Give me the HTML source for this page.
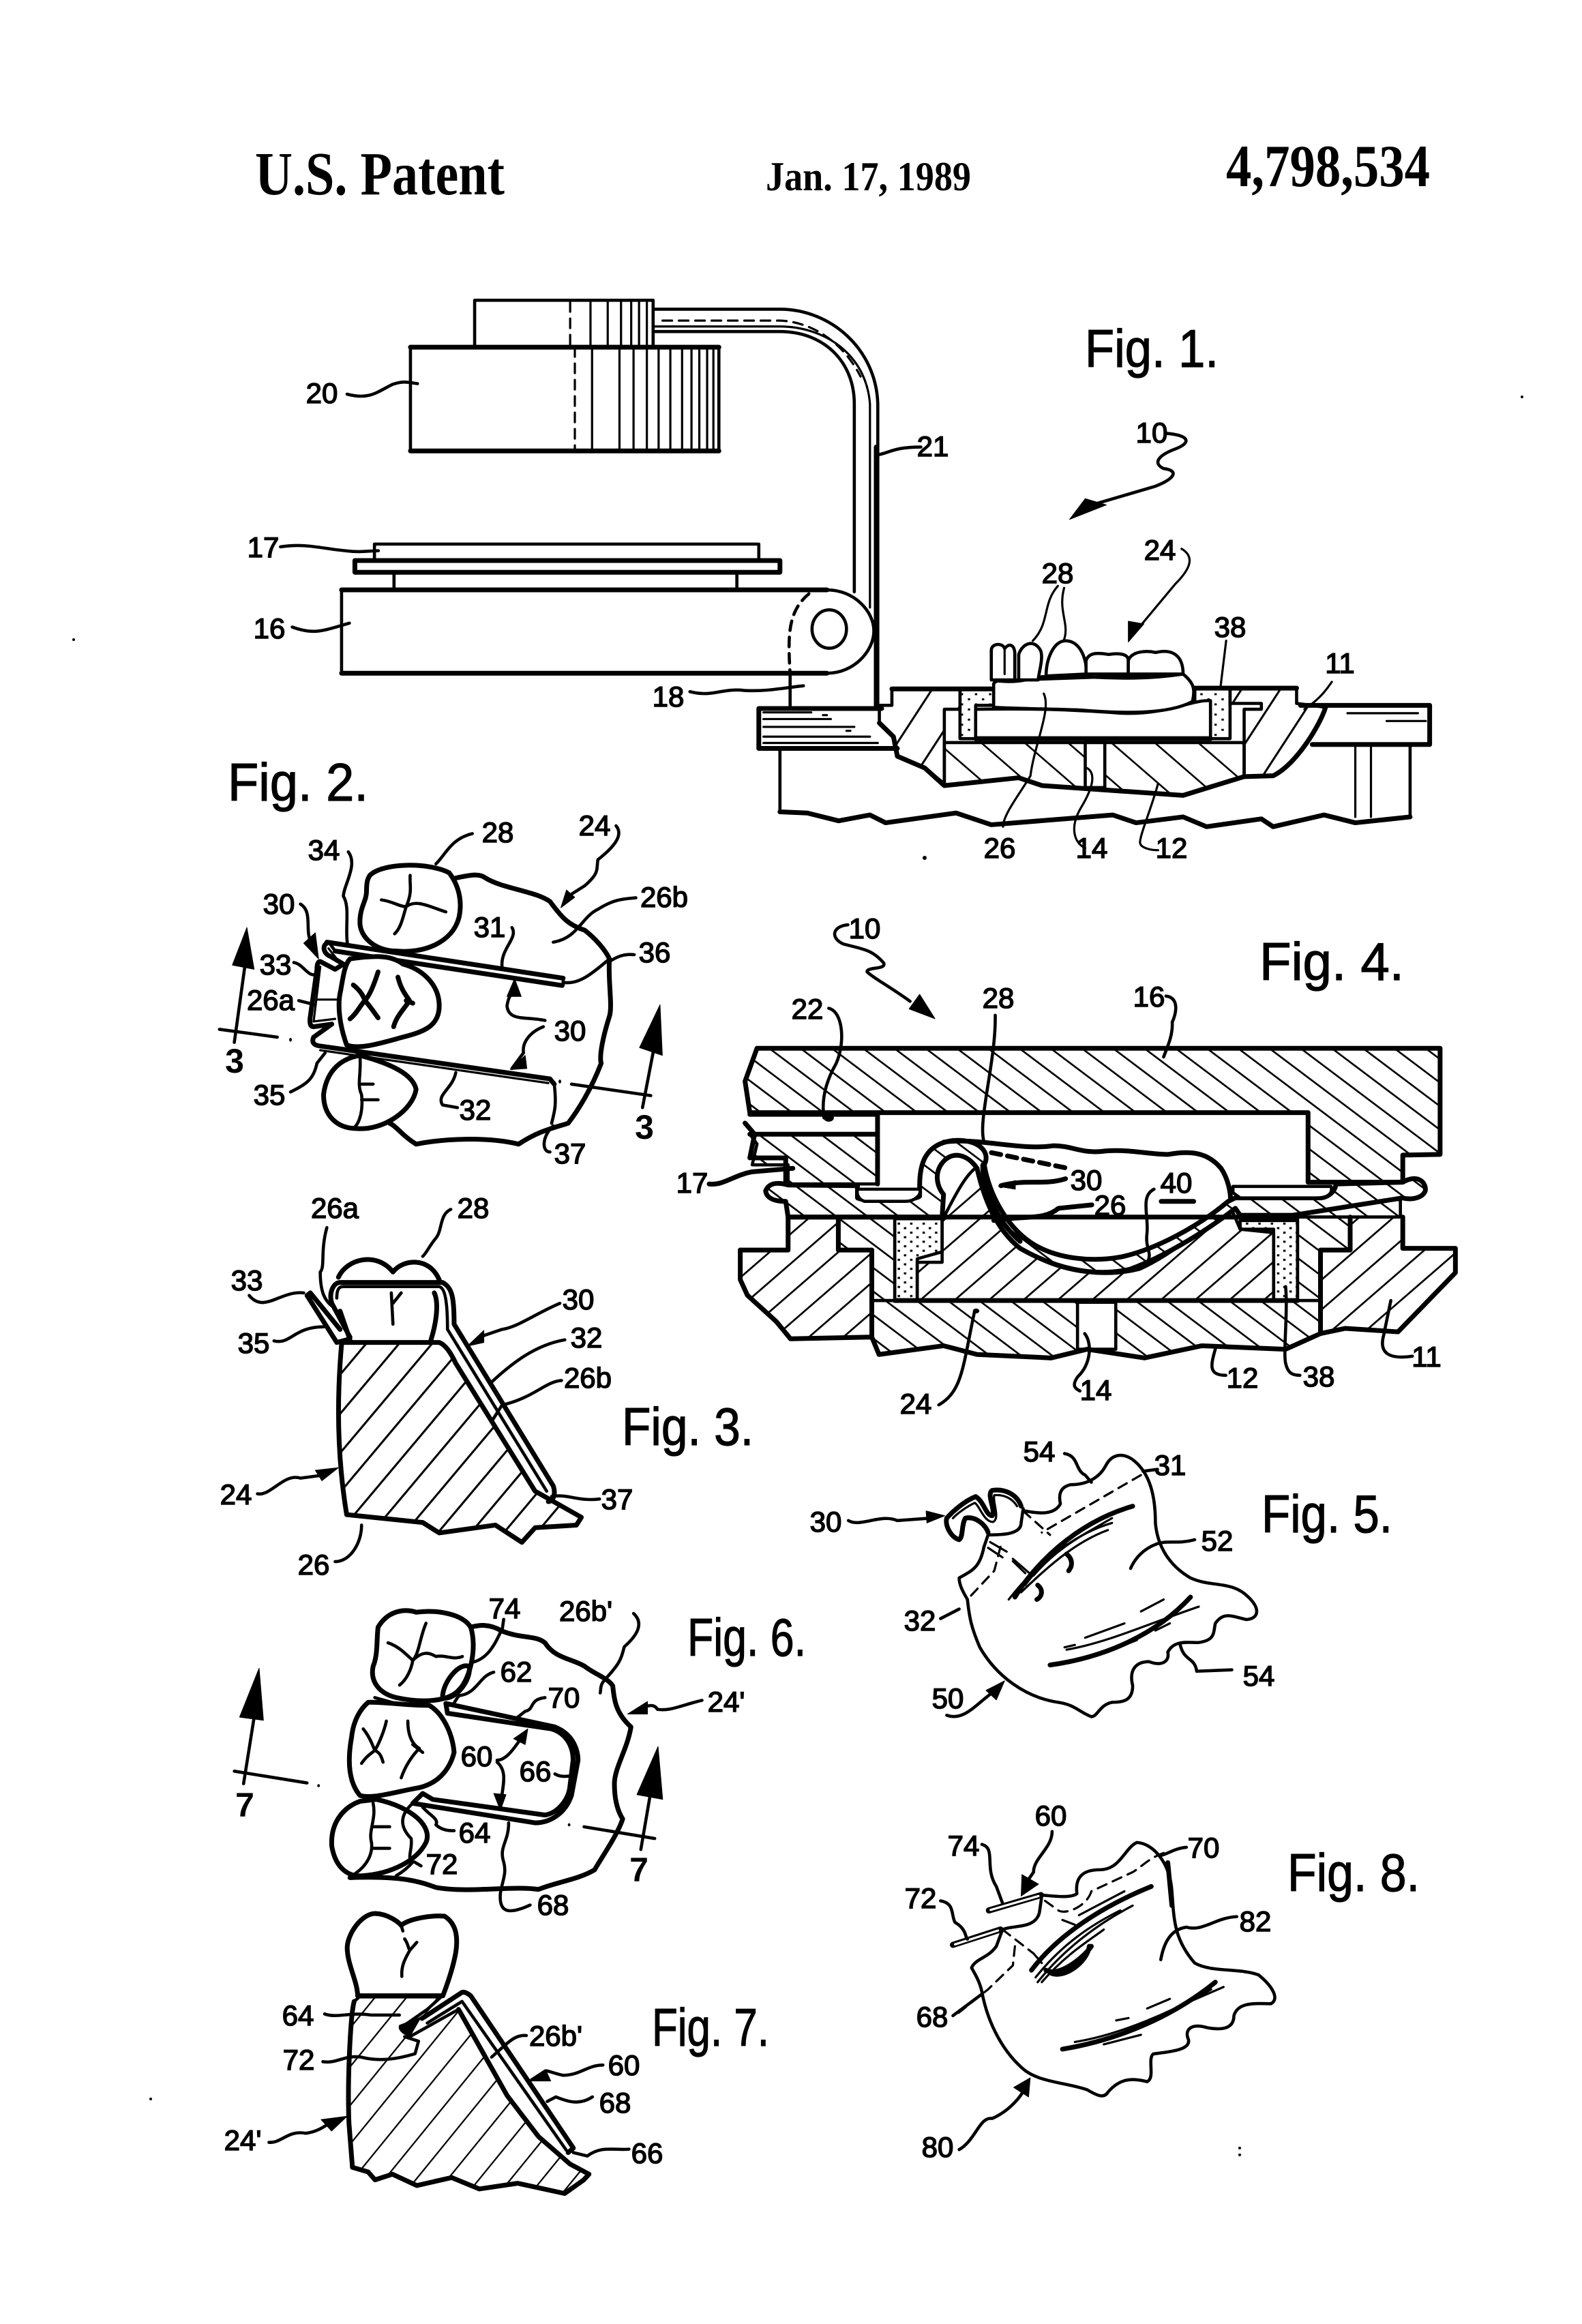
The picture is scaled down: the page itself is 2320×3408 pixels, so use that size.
<!DOCTYPE html>
<html lang="en"><head><meta charset="utf-8"><title>U.S. Patent 4,798,534</title>
<style>
html,body{margin:0;padding:0;background:#fff}
svg{display:block}
.g path,.g line,.g rect,.g ellipse,.g circle{vector-effect:non-scaling-stroke;fill:none;stroke:#000;stroke-width:4.6;stroke-linejoin:round;stroke-linecap:round}
.g .t{stroke-width:3.2}
.g .b{stroke-width:7}
.g .f{fill:#000;stroke-width:1}
.g .w{fill:#fff}
.g .d{stroke-dasharray:14 10}
.g .n{stroke:none}
.z1a{fill:url(#z1a)!important}.z1b{fill:url(#z1b)!important}.z1s{fill:url(#z1s)!important}
.z2a{fill:url(#z2a)!important}.z2b{fill:url(#z2b)!important}.z2s{fill:url(#z2s)!important}
.z3a{fill:url(#z3a)!important}.z7a{fill:url(#z7a)!important}
text{fill:#000;font-family:"Liberation Sans",sans-serif}
.l{font-size:42px;text-anchor:middle;stroke:#000;stroke-width:1.5}
.s{font-size:50px;font-weight:bold;text-anchor:middle}
.F{font-size:78px;stroke:#000;stroke-width:1.2}
.h{font-family:"Liberation Serif",serif;font-weight:bold}
</style></head><body>
<svg xmlns="http://www.w3.org/2000/svg" width="2320" height="3408" viewBox="0 0 2320 3408">
<defs>
<pattern id="z1a" patternUnits="userSpaceOnUse" width="47" height="20" patternTransform="rotate(18)"><rect width="3" height="20" fill="#000"/></pattern>
<pattern id="z1b" patternUnits="userSpaceOnUse" width="48" height="20" patternTransform="rotate(-30)"><rect width="3" height="20" fill="#000"/></pattern>
<pattern id="z1s" patternUnits="userSpaceOnUse" width="18" height="26"><rect x="3" y="4" width="3" height="5" fill="#000"/><rect x="12" y="17" width="3" height="5" fill="#000"/></pattern>
<pattern id="z2a" patternUnits="userSpaceOnUse" width="55" height="20" patternTransform="rotate(40)"><rect width="4.5" height="20" fill="#000"/></pattern>
<pattern id="z2b" patternUnits="userSpaceOnUse" width="47" height="20" patternTransform="rotate(-44)"><rect width="4.5" height="20" fill="#000"/></pattern>
<pattern id="z2s" patternUnits="userSpaceOnUse" width="26" height="26"><rect x="4" y="4" width="5" height="6" fill="#000"/><rect x="17" y="17" width="5" height="6" fill="#000"/></pattern>
<pattern id="z3a" patternUnits="userSpaceOnUse" width="60" height="20" patternTransform="rotate(53)"><rect width="5" height="20" fill="#000"/></pattern>
<pattern id="z7a" patternUnits="userSpaceOnUse" width="80" height="20" patternTransform="rotate(28)"><rect width="5" height="20" fill="#000"/></pattern>
</defs>
<rect width="2320" height="3408" fill="#fff"/>

<!-- header -->
<text class="h" x="374" y="285" font-size="90" textLength="366" lengthAdjust="spacingAndGlyphs">U.S. Patent</text>
<text class="h" x="1123" y="279" font-size="60" textLength="301" lengthAdjust="spacingAndGlyphs">Jan. 17, 1989</text>
<text class="h" x="1798" y="273" font-size="88" textLength="299" lengthAdjust="spacingAndGlyphs">4,798,534</text>

<!-- FIG 1 -->
<g class="g" transform="translate(300,380) scale(1.148,.574)">
<path d="M345 222V105H573V222"/>
<path class="t d" d="M467 110V222"/>
<path class="t" d="M493 110V222M515 110V222M532 110V222M545 110V222M555 110V222M565 110V222"/>
<path d="M573 128H735C800 128 858 230 860 370V1140"/>
<path d="M573 185H735C790 185 830 260 830 370V850"/>
<path class="t" d="M573 172H735C790 172 845 240 850 370V890"/>
<path class="t d" d="M585 157H735C775 160 815 210 838 300"/>
<path class="b" d="M858 480V1140"/>
<path class="w" d="M263 225H657V490H263Z"/>
<path class="b" d="M263 490H657M263 225H657"/>
<path class="t d" d="M473 225V490"/>
<path class="t" d="M495 225V490M530 225V490M548 225V490M565 225V490M580 225V490M595 225V490M610 225V490M622 225V490M632 225V490M642 225V490M650 225V490"/>
<path class="w" d="M217 728H708V768H217Z"/>
<path class="w b" d="M192 770H735V800H192Z"/>
<path d="M242 800V842M680 800V842"/>
<path class="w" d="M175 845H795C830 845 855 900 855 950C855 1000 830 1058 795 1058H175Z"/>
<path class="b" d="M175 1058H795M175 845H795"/>
<ellipse cx="798" cy="945" rx="22" ry="49"/>
<path class="d" d="M772 855C745 900 745 960 748 1060"/>
<path d="M748 1060V1148"/>
<path class="b" d="M708 1148H865M708 1250H885M708 1148V1250"/>
<path class="t" d="M714 1158H775M714 1175H800M714 1195H830M714 1220H850M714 1236H860"/>
<path class="t" d="M790 1165H795M820 1205H825"/>
<path class="b" d="M1400 1140H1565V1240H1415"/>
<path class="t" d="M1460 1160H1550M1510 1180H1560"/>
<path d="M735 1250V1412M1540 1240V1425"/>
<path class="t" d="M1470 1240V1425M1490 1240V1425"/>
<path class="b" d="M735 1412L770 1415 810 1435 850 1420 870 1440 960 1415 1005 1445 1160 1420 1190 1440 1250 1425 1280 1450 1350 1430 1365 1450 1430 1420 1470 1440 1540 1425"/>
<path class="z1a" d="M862 1140L878 1140 878 1098H965V1150H945V1340L920 1300 885 1270 880 1220 862 1185Z"/>
<path class="z1a" d="M1310 1098H1395V1135L1432 1145C1425 1190 1395 1290 1365 1320L1328 1322V1150H1350V1135H1310Z"/>
<path class="z1b" d="M945 1235H1328V1322L1250 1370 1070 1345 1040 1325 945 1345Z"/>
<path class="w" d="M1125 1235H1150V1350H1125Z"/>
<path class="z1s" d="M965 1098H1008V1140H985V1225H965Z"/>
<path class="z1s" d="M1265 1098H1310V1225H1285V1150H1265Z"/>
<path class="w" d="M985 1150C1060 1148 1100 1150 1170 1160 1230 1165 1260 1125 1285 1128V1225H985Z"/>
<path class="b" d="M985 1225H1285M878 1098H1005M1265 1096H1395"/>
<path class="b" d="M862 1185L880 1220 885 1270 920 1300 945 1345 1040 1325 1070 1345 1250 1370 1328 1322 1365 1320C1395 1290 1425 1190 1432 1145"/>
<path class="w" d="M1008 1145V1085C1010 1075 1020 1075 1040 1075L1250 1060C1265 1085 1265 1100 1262 1130 1230 1165 1170 1160 1120 1152 1060 1148 1030 1148 1008 1145Z"/>
<path d="M1015 1078C1050 1085 1065 1060 1080 1068 1100 1075 1120 1060 1135 1068 1160 1070 1200 1075 1250 1060"/>
<path class="w" d="M1005 1075V1000C1005 980 1020 980 1022 995 1028 980 1034 985 1035 1005V1075Z"/>
<path class="t" d="M1022 995V1060"/>
<path class="w" d="M1040 1075V1010C1045 980 1060 970 1068 1000 1072 1020 1065 1060 1065 1075Z"/>
<path class="w" d="M1075 1065C1075 1020 1085 975 1100 975 1120 975 1128 1030 1126 1060Z"/>
<path class="w" d="M1126 1060V1025C1130 1005 1140 1005 1155 1010 1170 1005 1180 1010 1180 1025V1060Z"/>
<path class="w" d="M1180 1060V1025C1185 1000 1205 1000 1215 1005 1235 995 1250 1010 1250 1060Z"/>
<path d="M182 345C210 360 220 340 240 320 255 310 260 315 272 318"/>
<path d="M860 500C875 495 880 480 915 480"/>
<path d="M1228 445C1260 450 1260 470 1240 485 1220 500 1210 520 1225 535 1245 540 1240 560 1215 580L1130 630"/>
<path class="f" d="M1105 665L1125 612 1152 628Z"/>
<path d="M97 735C130 725 150 740 180 745 200 750 210 745 222 745"/>
<path d="M112 940C140 960 150 950 185 930"/>
<path d="M620 1105C650 1120 660 1095 690 1102 720 1105 740 1095 765 1090"/>
<path class="t" d="M1090 835C1070 880 1080 930 1058 975M1098 840C1090 900 1105 930 1098 972"/>
<path class="t" d="M1248 740C1265 760 1260 790 1240 830L1190 950"/>
<path class="f" d="M1180 978L1180 925 1200 932Z"/>
<path class="t" d="M1305 975L1298 1090M1440 1080C1430 1110 1420 1130 1405 1150"/>
<path class="t" d="M1072 1110C1082 1150 1060 1240 1055 1320 1040 1370 1020 1420 1020 1450"/>
<path class="t" d="M1125 1298C1140 1310 1135 1350 1120 1400 1105 1450 1110 1490 1125 1505"/>
<path class="t" d="M1218 1340C1210 1400 1195 1470 1195 1490 1195 1505 1210 1510 1218 1510"/>
</g>

<!-- FIG 4 -->
<g class="g" transform="translate(1040,1300) scale(.7015,.5102)">
<path class="z2b b" d="M100 465H1528V770L1450 772V850H1252V650H85L75 560Z"/>
<path class="z2b" d="M85 712H352V855H165V800H90L100 740Z"/>
<path class="b" d="M85 655H352M85 712H352M352 650V855M75 680L95 712 85 780M90 780H160V850"/>
<circle class="f" cx="250" cy="665" r="10"/>
<path class="z2a" d="M165 950H270V1045H340V1295L170 1300 140 1250 80 1175 65 1130V1045H165Z"/>
<path class="z2a" d="M1340 950H1450V1040H1560V1110L1440 1280 1330 1270 1278 1285V1045H1340Z"/>
<path class="z2b" d="M340 1190H1278V1285L1205 1330 1030 1320 910 1355 790 1330 715 1355 560 1345 490 1320 355 1345 340 1300Z"/>
<path class="w" d="M770 1195H850V1330H770Z"/>
<path class="z2a" d="M435 1190V1080H487V960C510 900 540 810 570 800 580 860 620 1010 690 1070 750 1110 830 1125 900 1100 980 1050 1050 960 1085 905L1110 985H1180V1190Z"/>
<path class="z2b" d="M270 950H388V1190H340V1045H270Z"/>
<path class="z2b" d="M1230 950H1340V1045H1278V1190H1230Z"/>
<path class="z2s" d="M388 955H487V1050L435 1070V1190H388Z"/>
<path class="z2s" d="M1110 960H1230V1190H1180V995L1110 985Z"/>
<path class="z2b" d="M165 905H270V950H165Z"/>
<path class="z2b" d="M1350 900H1445V950H1230V945Z"/>
<path class="w" d="M118 875C125 850 145 850 165 858L310 860V895C320 905 430 905 440 890V860C440 800 450 740 510 730 560 725 590 760 575 800 585 880 620 980 680 1030 730 1070 800 1080 860 1065 930 1045 1020 980 1085 905L1100 895H1280C1300 890 1310 870 1310 855L1450 850C1480 825 1500 850 1497 875 1490 900 1460 900 1450 895L1220 945H1110L1100 925C1040 990 950 1065 880 1100 800 1125 720 1095 650 1040 600 985 575 900 560 810 540 770 510 760 490 790 470 820 475 860 490 885L487 950H165L160 905C135 905 120 895 118 875Z"/>
<path class="z2b b" d="M118 875C125 850 145 850 165 858L310 860V895C320 905 430 905 440 890V860C440 800 450 740 510 730 560 725 590 760 575 800 585 880 620 980 680 1030 730 1070 800 1080 860 1065 930 1045 1020 980 1085 905L1100 895H1280C1300 890 1310 870 1310 855L1450 850C1480 825 1500 850 1497 875 1490 900 1460 900 1450 895L1220 945H1110L1100 925C1040 990 950 1065 880 1100 800 1125 720 1095 650 1040 600 985 575 900 560 810 540 770 510 760 490 790 470 820 475 860 490 885L487 950H165L160 905C135 905 120 895 118 875Z"/>
<path class="w" d="M310 870H440C445 885 430 905 410 905H325C312 900 308 885 310 870Z"/>
<path class="w" d="M1095 862H1300C1305 885 1290 895 1270 895H1110L1095 880Z"/>
<path class="b" d="M490 735C560 720 650 760 720 745 760 745 780 770 830 760 880 755 920 770 960 770 1000 760 1040 760 1070 810 1085 840 1090 880 1090 900"/>
<path class="b" d="M65 1045V1130L80 1175 140 1250 170 1300 340 1295 355 1345 490 1320 560 1345 715 1355 790 1330 910 1355 1030 1320 1205 1330 1278 1285 1330 1270 1440 1280 1560 1110V1040H1450V950"/>
<path class="b" d="M165 950H1230M388 1190H1230M65 1045H165V950M270 950V1045H340V1295M1340 950V1045H1278V1285"/>
<path class="b d" d="M590 765L750 810"/>
<path class="b" d="M572 800C570 860 600 960 650 1020"/>
<path class="b" d="M610 860C660 840 700 860 745 840"/>
<path class="f" d="M605 862L640 845 640 870Z"/>
<path class="b" d="M595 960C660 945 700 960 730 925L800 915"/>
<path d="M930 870C900 890 920 950 915 1000 912 1040 925 1050 918 1075"/>
<path d="M598 370C600 500 560 680 575 735"/>
<path d="M955 315C985 320 975 370 968 390 970 430 955 470 950 490"/>
<path d="M250 350C280 360 285 450 265 510 240 570 235 620 240 665"/>
<path d="M290 110C255 115 255 150 280 165 320 180 340 180 365 220 370 240 330 230 330 245 340 260 380 290 420 330"/>
<path class="f" d="M472 380L418 352 440 310Z"/>
<path class="b" d="M0 855C30 860 50 830 90 820L175 810"/>
<path d="M480 1490C530 1450 530 1380 555 1220"/>
<circle class="f" cx="558" cy="1220" r="6"/>
<path d="M785 1285C800 1310 800 1370 770 1410 755 1440 770 1445 775 1450"/>
<path d="M1060 1320C1050 1370 1040 1405 1080 1405"/>
<path d="M1205 1150C1210 1220 1200 1340 1205 1370 1210 1400 1220 1405 1235 1405"/>
<path d="M1425 1190L1410 1290C1400 1340 1420 1360 1470 1350"/>
<path class="b" d="M945 905H1013"/>
</g>

<!-- FIG 2 & 3 -->
<g class="g" transform="translate(300,1100) scale(.4847,.7653)">
<path class="b" d="M760 245C800 240 830 235 850 245 900 265 1000 270 1045 290 1080 320 1100 335 1150 345 1180 360 1210 380 1225 400 1220 440 1235 490 1225 510 1200 560 1195 590 1200 600 1170 650 1130 690 1100 715 1050 725 1010 730 950 755 850 740 720 745 640 755 600 740 580 720 560 715"/>
<path class="w b" d="M500 240C540 215 680 215 740 235 770 260 780 290 770 320 750 370 660 390 580 385 520 385 470 360 470 330 470 300 490 290 490 270 490 250 495 245 500 240Z"/>
<path d="M535 287C570 290 590 300 610 300 630 270 620 260 622 240M610 300C640 285 680 300 730 310M610 300C600 320 595 340 575 352"/>
<path class="w" d="M375 367L1085 437V450L395 385Z"/>
<path class="b" d="M370 368L1085 437M395 385L1082 451"/>
<path class="w b" d="M440 400C500 395 560 390 600 410 660 420 710 450 710 490 710 530 660 540 600 550 540 560 470 575 430 565 410 530 400 490 412 460 420 430 425 410 440 400Z"/>
<path class="b" d="M450 450C470 460 480 470 485 480 500 470 515 445 525 425M485 480C470 490 460 505 440 515M485 480C500 490 510 500 525 513M585 435C595 460 610 470 620 480 605 495 580 510 572 530M610 480L630 485"/>
<path class="w b" d="M470 585C420 590 370 610 360 660 360 700 400 725 460 725 540 730 630 690 640 650 630 620 560 600 470 585Z"/>
<path d="M470 585C475 620 460 640 475 660 480 690 470 715 450 725M475 640H510M475 670H525"/>
<path class="b" d="M370 370C355 375 360 390 380 395L420 410 395 420 350 405Q340 405 340 420L320 510Q315 530 330 530L385 525 330 550Q320 565 350 567L1045 630 1058 640"/>
<path class="t" d="M375 380L410 408M350 415L330 520 395 515M350 575L1040 638"/>
<path class="t" d="M340 478H405"/>
<path d="M1058 640C1065 680 1060 690 1050 715M1085 445C1130 450 1170 430 1225 400"/>
<path d="M45 535L220 550M1110 640L1350 662"/>
<circle class="f" cx="260" cy="555" r="3"/><circle class="f" cx="1075" cy="635" r="3"/>
<path d="M90 560L125 400M1325 685L1360 570"/>
<path class="f" d="M128 340L150 420 84 412Z"/>
<path class="f" d="M1378 488L1385 585 1316 570Z"/>
<path d="M700 218C730 200 745 170 810 160"/>
<path d="M1245 145C1265 160 1250 180 1190 210 1185 230 1195 235 1150 260L1100 280"/>
<path class="f" d="M1078 302L1095 268 1120 282Z"/>
<path d="M1055 368C1130 360 1140 320 1190 305 1240 285 1270 285 1305 283"/>
<path d="M435 195C465 220 420 260 420 280 440 300 425 340 432 370"/>
<path d="M290 295C330 310 300 350 325 370"/>
<path class="f" d="M345 400L300 370 335 350Z"/>
<path d="M270 407C300 410 310 435 340 430M285 480L335 488"/>
<path d="M930 340C950 360 895 380 900 415M1225 405C1250 395 1270 390 1300 392"/>
<path d="M1030 518C970 510 920 520 915 490 920 470 930 465 940 460"/>
<path class="f" d="M938 438L958 472 915 472Z"/>
<path d="M1025 530C985 540 960 560 965 580L930 610"/>
<path class="f" d="M925 612L970 585 975 610Z"/>
<path d="M260 655C310 640 330 630 340 600L365 580"/>
<path d="M760 618C750 650 700 660 720 680L765 685"/>
<path d="M1055 720C1020 740 1020 770 1045 770"/>

<path class="z3a" d="M415 1135H710C730 1140 745 1155 760 1175L1000 1420 1140 1470 1125 1485 1000 1490 960 1518 880 1485 710 1500 660 1480 430 1465C400 1350 400 1240 415 1135Z"/>
<path class="b" d="M415 1135H710C730 1140 745 1155 760 1175L1000 1420M1000 1420L1140 1470 1125 1485 1000 1490 960 1518 880 1485 710 1500 660 1480 430 1465C400 1350 400 1240 415 1135"/>
<path class="b" d="M405 1010C430 975 520 960 570 1000 600 975 680 970 710 1015"/>
<path class="b" d="M385 1060C375 1040 390 1020 410 1020H720C750 1030 755 1050 755 1100L1055 1410C1065 1430 1050 1440 1040 1440"/>
<path d="M400 1050C400 1030 410 1028 420 1028H710C725 1030 735 1050 735 1110L1035 1420"/>
<path class="b" d="M410 1075L440 1130M695 1040C710 1060 700 1100 685 1130"/>
<path d="M565 1040L570 1100M570 1060L595 1040"/>
<path class="b" d="M430 1130L400 1135 310 1045 320 1040 410 1110M385 1060L440 1125"/>
<path d="M370 915C350 960 365 990 350 1000 350 1040 365 1055 385 1065"/>
<path d="M745 880C710 890 720 920 700 935 680 950 670 965 660 970"/>
<path d="M135 1045C180 1080 230 1035 300 1040"/>
<path d="M210 1132C260 1140 270 1105 360 1105"/>
<path d="M1075 1060C1000 1080 950 1105 900 1110L830 1125"/>
<path class="f" d="M795 1142L845 1112 845 1135Z"/>
<path d="M1090 1130C1000 1140 930 1175 870 1210"/>
<path d="M1080 1208C1030 1210 1000 1240 900 1255L870 1285"/>
<path d="M1050 1430C1100 1425 1130 1440 1195 1435"/>
<path d="M160 1425C200 1430 240 1385 290 1395L350 1390"/>
<path class="f" d="M405 1375L335 1380 355 1400Z"/>
<path d="M475 1485C475 1520 440 1555 395 1555"/>
</g>

<!-- FIG 6 -->
<g class="g" transform="translate(300,2300) scale(.4847,.574)">
<path class="b" d="M805 150C830 145 860 140 900 160 960 180 1000 170 1030 190 1060 230 1110 230 1150 250 1180 270 1220 280 1235 300 1240 340 1245 370 1290 405 1280 460 1240 510 1240 550 1240 590 1250 620 1265 640 1250 680 1200 740 1180 770 1130 795 1070 800 1010 820 930 810 800 830 700 815 650 800 600 785 440 790"/>
<path class="w b" d="M525 150C560 100 620 105 640 112 700 105 780 115 805 150 825 200 805 280 770 310 740 340 660 345 580 330 530 320 500 290 510 250 525 220 520 180 525 150Z"/>
<path d="M555 190C590 200 610 220 630 235 650 215 650 180 670 140M630 235C660 210 680 215 700 225 730 220 750 235 780 225M630 235C625 260 610 285 590 298"/>
<path class="b" d="M720 330C720 290 770 240 800 250 810 280 760 340 720 330Z"/>
<path d="M810 240C860 230 880 190 900 155"/>
<path d="M515 330L600 350"/>
<path class="w b" d="M495 342C540 340 600 350 680 350 720 370 750 420 755 470 740 520 700 550 650 560 580 570 510 590 470 580 440 550 430 500 445 430 450 390 470 360 495 342Z"/>
<path d="M480 410C500 430 510 455 515 465 530 445 545 410 550 390M515 465C500 475 490 480 475 498M515 465C530 470 535 480 540 495M615 390C615 430 630 450 650 460 625 480 605 510 595 535M630 450L660 470"/>
<path class="w b" d="M470 595C420 610 380 650 385 710 395 760 430 790 480 785 560 780 640 750 670 700 690 660 630 610 520 590Z"/>
<path d="M510 600C520 640 495 670 505 700 510 730 490 760 455 780M510 660H560M510 715H560"/>
<path d="M630 600C590 630 590 660 625 690 630 720 610 740 630 750 610 770 590 780 580 785"/>
<path class="b" d="M730 345L1060 405C1120 425 1130 470 1130 490L1110 580C1090 630 1040 650 1000 650L630 600 660 575 690 590 1030 630C1070 625 1100 590 1105 560L1115 490C1115 450 1090 420 1050 410L735 370 730 345"/>
<path d="M90 518L310 548M1148 660L1362 690"/>
<circle class="f" cx="345" cy="555" r="3"/><circle class="f" cx="1103" cy="655" r="3"/>
<path d="M118 550L150 380M1320 718L1350 570"/>
<path class="f" d="M165 255L178 388 106 380Z"/>
<path class="f" d="M1372 455L1386 590 1308 578Z"/>
<path d="M905 130L900 160"/>
<path d="M1298 115C1330 140 1310 170 1270 200 1260 230 1260 240 1210 285 1195 300 1200 310 1197 318"/>
<path d="M1505 337C1440 350 1410 365 1370 360 1360 345 1340 350 1320 358"/>
<path class="f" d="M1280 372L1340 340 1340 372Z"/>
<path d="M875 265C830 275 825 320 770 325 750 345 760 350 730 350"/>
<path d="M1030 330C980 335 1000 360 970 365L940 385"/>
<path d="M885 490C920 490 950 440 970 420"/>
<path class="f" d="M978 410L970 450 935 435Z"/>
<path d="M885 495C920 520 900 560 895 610"/>
<path class="f" d="M895 618L875 575 912 578Z"/>
<path d="M1060 525C1080 535 1100 530 1115 530"/>
<path d="M660 610C680 630 710 640 700 655 720 670 740 670 755 670"/>
<path d="M635 750L655 760"/>
<path d="M920 650C920 700 890 710 905 750 915 780 900 800 895 830 890 880 920 885 985 860"/>
</g>

<!-- FIG 7 -->
<g class="g" transform="translate(300,2780) scale(.5102,.3333)">
<path class="b" d="M440 440C440 380 410 300 410 230 410 170 450 80 490 78 530 80 560 120 565 130 590 100 650 85 690 90 720 120 730 170 722 250 715 310 700 380 685 440"/>
<path d="M575 190C585 210 585 230 590 240L610 205M590 240C575 280 565 310 567 355M565 130L570 155"/>
<path class="z7a" d="M430 465L445 445H680L640 500 565 580 590 620 660 560 730 500 870 880 960 1060 1050 1180 1105 1225 1090 1250 1035 1310 900 1265 790 1290 710 1240 610 1275 540 1225 490 1250 470 1215 425 1195 415 1000C410 800 420 520 430 465Z"/>
<path class="b" d="M440 440H685M430 465C420 520 410 800 415 1000L425 1195 470 1215 490 1250 540 1225 610 1275 710 1240 790 1290 900 1265 1035 1310 1090 1250 1105 1225 1050 1180 960 1060 870 880 730 500"/>
<path class="b" d="M625 540L735 430Q745 415 765 440L1060 1110 1045 1130"/>
<path d="M640 560L740 465 1040 1120"/>
<path class="f" d="M560 570C590 550 620 545 640 510L680 445 620 540 590 620C570 610 555 590 560 570Z"/>
<path d="M340 730C380 740 400 700 450 710 500 730 550 720 605 695L615 640 575 620"/>
<path d="M345 520C380 540 420 510 480 525L560 525"/>
<path d="M925 615C890 610 870 650 825 710"/>
<path d="M1145 745C1100 745 1080 790 1030 790 1000 780 990 770 980 770L940 810"/>
<path class="f" d="M935 815L980 765 995 815Z"/>
<path d="M1115 885C1080 920 1050 910 1010 885L985 905"/>
<path d="M1220 1115C1170 1120 1140 1100 1100 1145L1060 1130"/>
<path d="M185 1085C220 1090 240 1030 290 1045 320 1040 340 1020 360 1000"/>
<path class="f" d="M410 970L335 985 365 1035Z"/>
</g>

<!-- FIG 5 & 8 -->
<g class="g" transform="translate(1140,2100) scale(.6059,.7015)">
<path d="M600 165C630 170 670 175 685 150 680 130 685 115 710 110 750 110 780 95 795 70 810 45 840 40 870 65 900 90 915 130 915 190 920 240 950 280 1000 305 1050 325 1100 310 1140 345 1170 370 1165 390 1135 392 1100 385 1080 375 1060 400 1055 420 1060 435 1020 440 990 440 960 435 945 460 950 480 930 490 900 480 870 480 850 495 860 530 860 560 840 565 810 565 780 570 775 595 760 595 730 585 720 570 680 565 600 555 530 510 490 450 470 410 465 390 460 350 450 335 440 320 440 305 470 290 490 285 500 240L510 215C540 215 590 215 590 190L595 160"/>
<path class="b" d="M410 180C420 170 450 145 480 135 500 145 505 175 520 175 530 165 505 130 520 122 550 118 580 130 590 155"/>
<path class="b" d="M410 180C405 195 420 220 440 225 450 220 445 195 455 180 480 175 505 195 510 210"/>
<path class="t" d="M425 180C435 170 460 155 478 148 490 155 500 188 522 188 540 180 520 145 525 132 550 130 570 140 580 155"/>
<path class="t d" d="M880 90L640 210"/>
<path class="t d" d="M595 165L660 215M540 240L525 290 460 350"/>
<path class="t" d="M515 230L555 250M510 242L545 262M570 265L610 295"/>
<path class="b" d="M575 345C620 280 720 190 860 155"/>
<path class="t" d="M600 320C650 260 730 210 810 190M620 300C680 240 740 215 810 180M570 270L600 295M590 335C650 285 720 230 800 205M560 350C610 295 650 265 700 235"/>
<path class="b" d="M660 487C800 470 920 420 1000 345"/>
<path class="t" d="M700 455C800 440 900 400 1020 365M745 430L840 400M880 375L935 350M695 450L720 445M810 455L870 435M915 415L950 400"/>
<path class="b" d="M630 320C645 330 640 345 628 350M700 255C715 265 715 280 705 290"/>
<path d="M1010 225C970 235 940 225 915 235 885 245 865 265 855 285"/>
<path d="M695 45C730 50 720 80 745 90L760 105M920 78L885 82"/>
<path d="M172 185C200 200 250 170 290 185L370 180"/>
<path class="f" d="M405 175L360 165 362 190Z"/>
<path d="M395 390L440 370"/>
<path d="M410 592C450 605 480 570 520 545"/>
<path class="f" d="M550 520L505 540 530 560Z"/>
<path d="M975 445C985 480 1010 470 1015 500L1100 497"/>

<path d="M640 968C670 970 710 975 725 965 720 930 740 915 780 915 830 915 840 870 870 858 910 860 950 900 955 960 960 1020 960 1060 1010 1110 1050 1130 1120 1120 1165 1135 1200 1160 1215 1185 1195 1195 1160 1195 1115 1190 1105 1220 1105 1250 1070 1250 1040 1245 1000 1235 985 1250 995 1270 1000 1290 960 1295 910 1300 895 1310 915 1350 895 1358 860 1350 830 1350 800 1380 790 1395 770 1385 750 1375 700 1360 640 1360 600 1335 550 1300 510 1240 495 1170 490 1150 480 1135 470 1120 480 1100 510 1100 530 1075L545 1040C570 1030 630 1040 635 1000L640 970"/>
<path class="b" d="M945 900L955 990"/>
<path class="b" style="stroke-width:9" d="M512 1000L638 968M425 1072L540 1040"/>
<path class="t" style="stroke:#fff" d="M516 999L632 970M430 1071L534 1042"/>
<path class="t d" d="M935 880C900 890 880 910 860 920L760 960C750 990 700 1010 680 1000L640 975"/>
<path class="t d" d="M545 1040L620 1090M575 1075L570 1115 510 1165 430 1220"/>
<path class="t" d="M720 1030L690 1020M620 1090L640 1110"/>
<path class="b" d="M615 1125C680 1050 790 990 905 950"/>
<path class="t" d="M640 1150C700 1090 760 1060 790 1040M730 1010L840 960M625 1140C690 1070 760 1030 830 1000M630 1150C690 1085 770 1030 860 990"/>
<path class="b" d="M650 1125C680 1140 740 1100 760 1075M660 1130C690 1145 750 1110 755 1075"/>
<path class="b" d="M690 1290C830 1270 960 1220 1060 1150"/>
<path class="t" d="M720 1275C830 1260 960 1210 1050 1165M790 1280L880 1260M1000 1190L1080 1160M820 1230L850 1225M895 1205L950 1185"/>
<path d="M665 835C665 870 620 890 620 920L600 945"/>
<path class="f" d="M590 970L592 925 632 945Z"/>
<path d="M495 862C530 870 500 910 530 950L545 985"/>
<path d="M395 980C430 985 420 1010 430 1025 460 1040 455 1060 460 1060"/>
<path d="M990 868C960 870 940 885 925 885"/>
<path d="M1112 1013C1060 1015 1030 1045 990 1035 950 1040 935 1070 928 1103"/>
<path d="M425 1220L495 1175"/>
<path d="M440 1500C480 1480 490 1430 520 1435 560 1420 590 1390 600 1370"/>
<path class="f" d="M612 1350L608 1390 572 1370Z"/>
</g>

<!-- Figure titles -->
<text class="F" x="1591" y="538" textLength="196" lengthAdjust="spacingAndGlyphs">Fig. 1.</text>
<text class="F" x="334" y="1174" textLength="206" lengthAdjust="spacingAndGlyphs">Fig. 2.</text>
<text class="F" x="912" y="2119" textLength="193" lengthAdjust="spacingAndGlyphs">Fig. 3.</text>
<text class="F" x="1847" y="1437" textLength="212" lengthAdjust="spacingAndGlyphs">Fig. 4.</text>
<text class="F" x="1850" y="2247" textLength="192" lengthAdjust="spacingAndGlyphs">Fig. 5.</text>
<text class="F" x="1008" y="2428" textLength="174" lengthAdjust="spacingAndGlyphs">Fig. 6.</text>
<text class="F" x="956" y="3000" textLength="172" lengthAdjust="spacingAndGlyphs">Fig. 7.</text>
<text class="F" x="1888" y="2773" textLength="194" lengthAdjust="spacingAndGlyphs">Fig. 8.</text>

<!-- Fig 1 labels -->
<g class="l">
<text x="472" y="591">20</text><text x="1368" y="669">21</text><text x="1689" y="649">10</text>
<text x="386" y="817">17</text><text x="395" y="936">16</text><text x="980" y="1036">18</text>
<text x="1701" y="821">24</text><text x="1551" y="855">28</text><text x="1804" y="934">38</text>
<text x="1965" y="987">11</text><text x="1466" y="1258">26</text><text x="1601" y="1258">14</text><text x="1718" y="1258">12</text>
</g>
<!-- Fig 2 labels -->
<g class="l">
<text x="730" y="1235">28</text><text x="872" y="1225">24</text><text x="475" y="1261">34</text>
<text x="974" y="1330">26b</text><text x="409" y="1340">30</text><text x="718" y="1374">31</text>
<text x="960" y="1411">36</text><text x="404" y="1429">33</text><text x="397" y="1481">26a</text>
<text x="836" y="1526">30</text><text x="395" y="1620">35</text><text x="697" y="1642">32</text><text x="836" y="1706">37</text>
</g>
<text class="s" x="344" y="1573">3</text><text class="s" x="945" y="1670">3</text>
<!-- Fig 3 labels -->
<g class="l">
<text x="491" y="1786">26a</text><text x="694" y="1786">28</text><text x="362" y="1892">33</text>
<text x="848" y="1920">30</text><text x="372" y="1984">35</text><text x="860" y="1976">32</text>
<text x="862" y="2035">26b</text><text x="905" y="2213">37</text><text x="346" y="2206">24</text><text x="460" y="2309">26</text>
</g>
<!-- Fig 4 labels -->
<g class="l">
<text x="1268" y="1376">10</text><text x="1184" y="1494">22</text><text x="1464" y="1478">28</text>
<text x="1685" y="1476">16</text><text x="1015" y="1749">17</text><text x="1593" y="1745">30</text>
<text x="1628" y="1782">26</text><text x="1725" y="1749">40</text>
<text x="1343" y="2073">24</text><text x="1607" y="2053">14</text><text x="1822" y="2035">12</text>
<text x="1934" y="2033">38</text><text x="2092" y="2004">11</text>
</g>
<!-- Fig 5 labels -->
<g class="l">
<text x="1524" y="2143">54</text><text x="1716" y="2163">31</text><text x="1211" y="2246">30</text>
<text x="1785" y="2274">52</text><text x="1349" y="2391">32</text><text x="1846" y="2472">54</text><text x="1390" y="2505">50</text>
</g>
<!-- Fig 6 labels -->
<g class="l">
<text x="859" y="2377">26b'</text><text x="740" y="2373">74</text><text x="757" y="2466">62</text>
<text x="827" y="2504">70</text><text x="699" y="2590">60</text><text x="785" y="2612">66</text>
<text x="696" y="2702">64</text><text x="648" y="2748">72</text><text x="811" y="2808">68</text><text x="1065" y="2510">24'</text>
</g>
<text class="s" x="359" y="2664">7</text><text class="s" x="937" y="2759">7</text>
<!-- Fig 7 labels -->
<g class="l">
<text x="437" y="2970">64</text><text x="438" y="3035">72</text><text x="815" y="3000">26b'</text>
<text x="915" y="3043">60</text><text x="902" y="3098">68</text><text x="949" y="3172">66</text><text x="356" y="3153">24'</text>
</g>
<!-- Fig 8 labels -->
<g class="l">
<text x="1541" y="2677">60</text><text x="1413" y="2721">74</text><text x="1765" y="2724">70</text>
<text x="1350" y="2798">72</text><text x="1841" y="2832">82</text><text x="1367" y="2972">68</text><text x="1375" y="3163">80</text>
</g>

<!-- specks -->
<g fill="#000">
<circle cx="1356" cy="1258" r="3"/><circle cx="2232" cy="582" r="2"/><circle cx="108" cy="938" r="2"/>
<circle cx="221" cy="3078" r="2"/><circle cx="1818" cy="3150" r="2"/><circle cx="1818" cy="3160" r="2"/>
</g>
</svg>
</body></html>
